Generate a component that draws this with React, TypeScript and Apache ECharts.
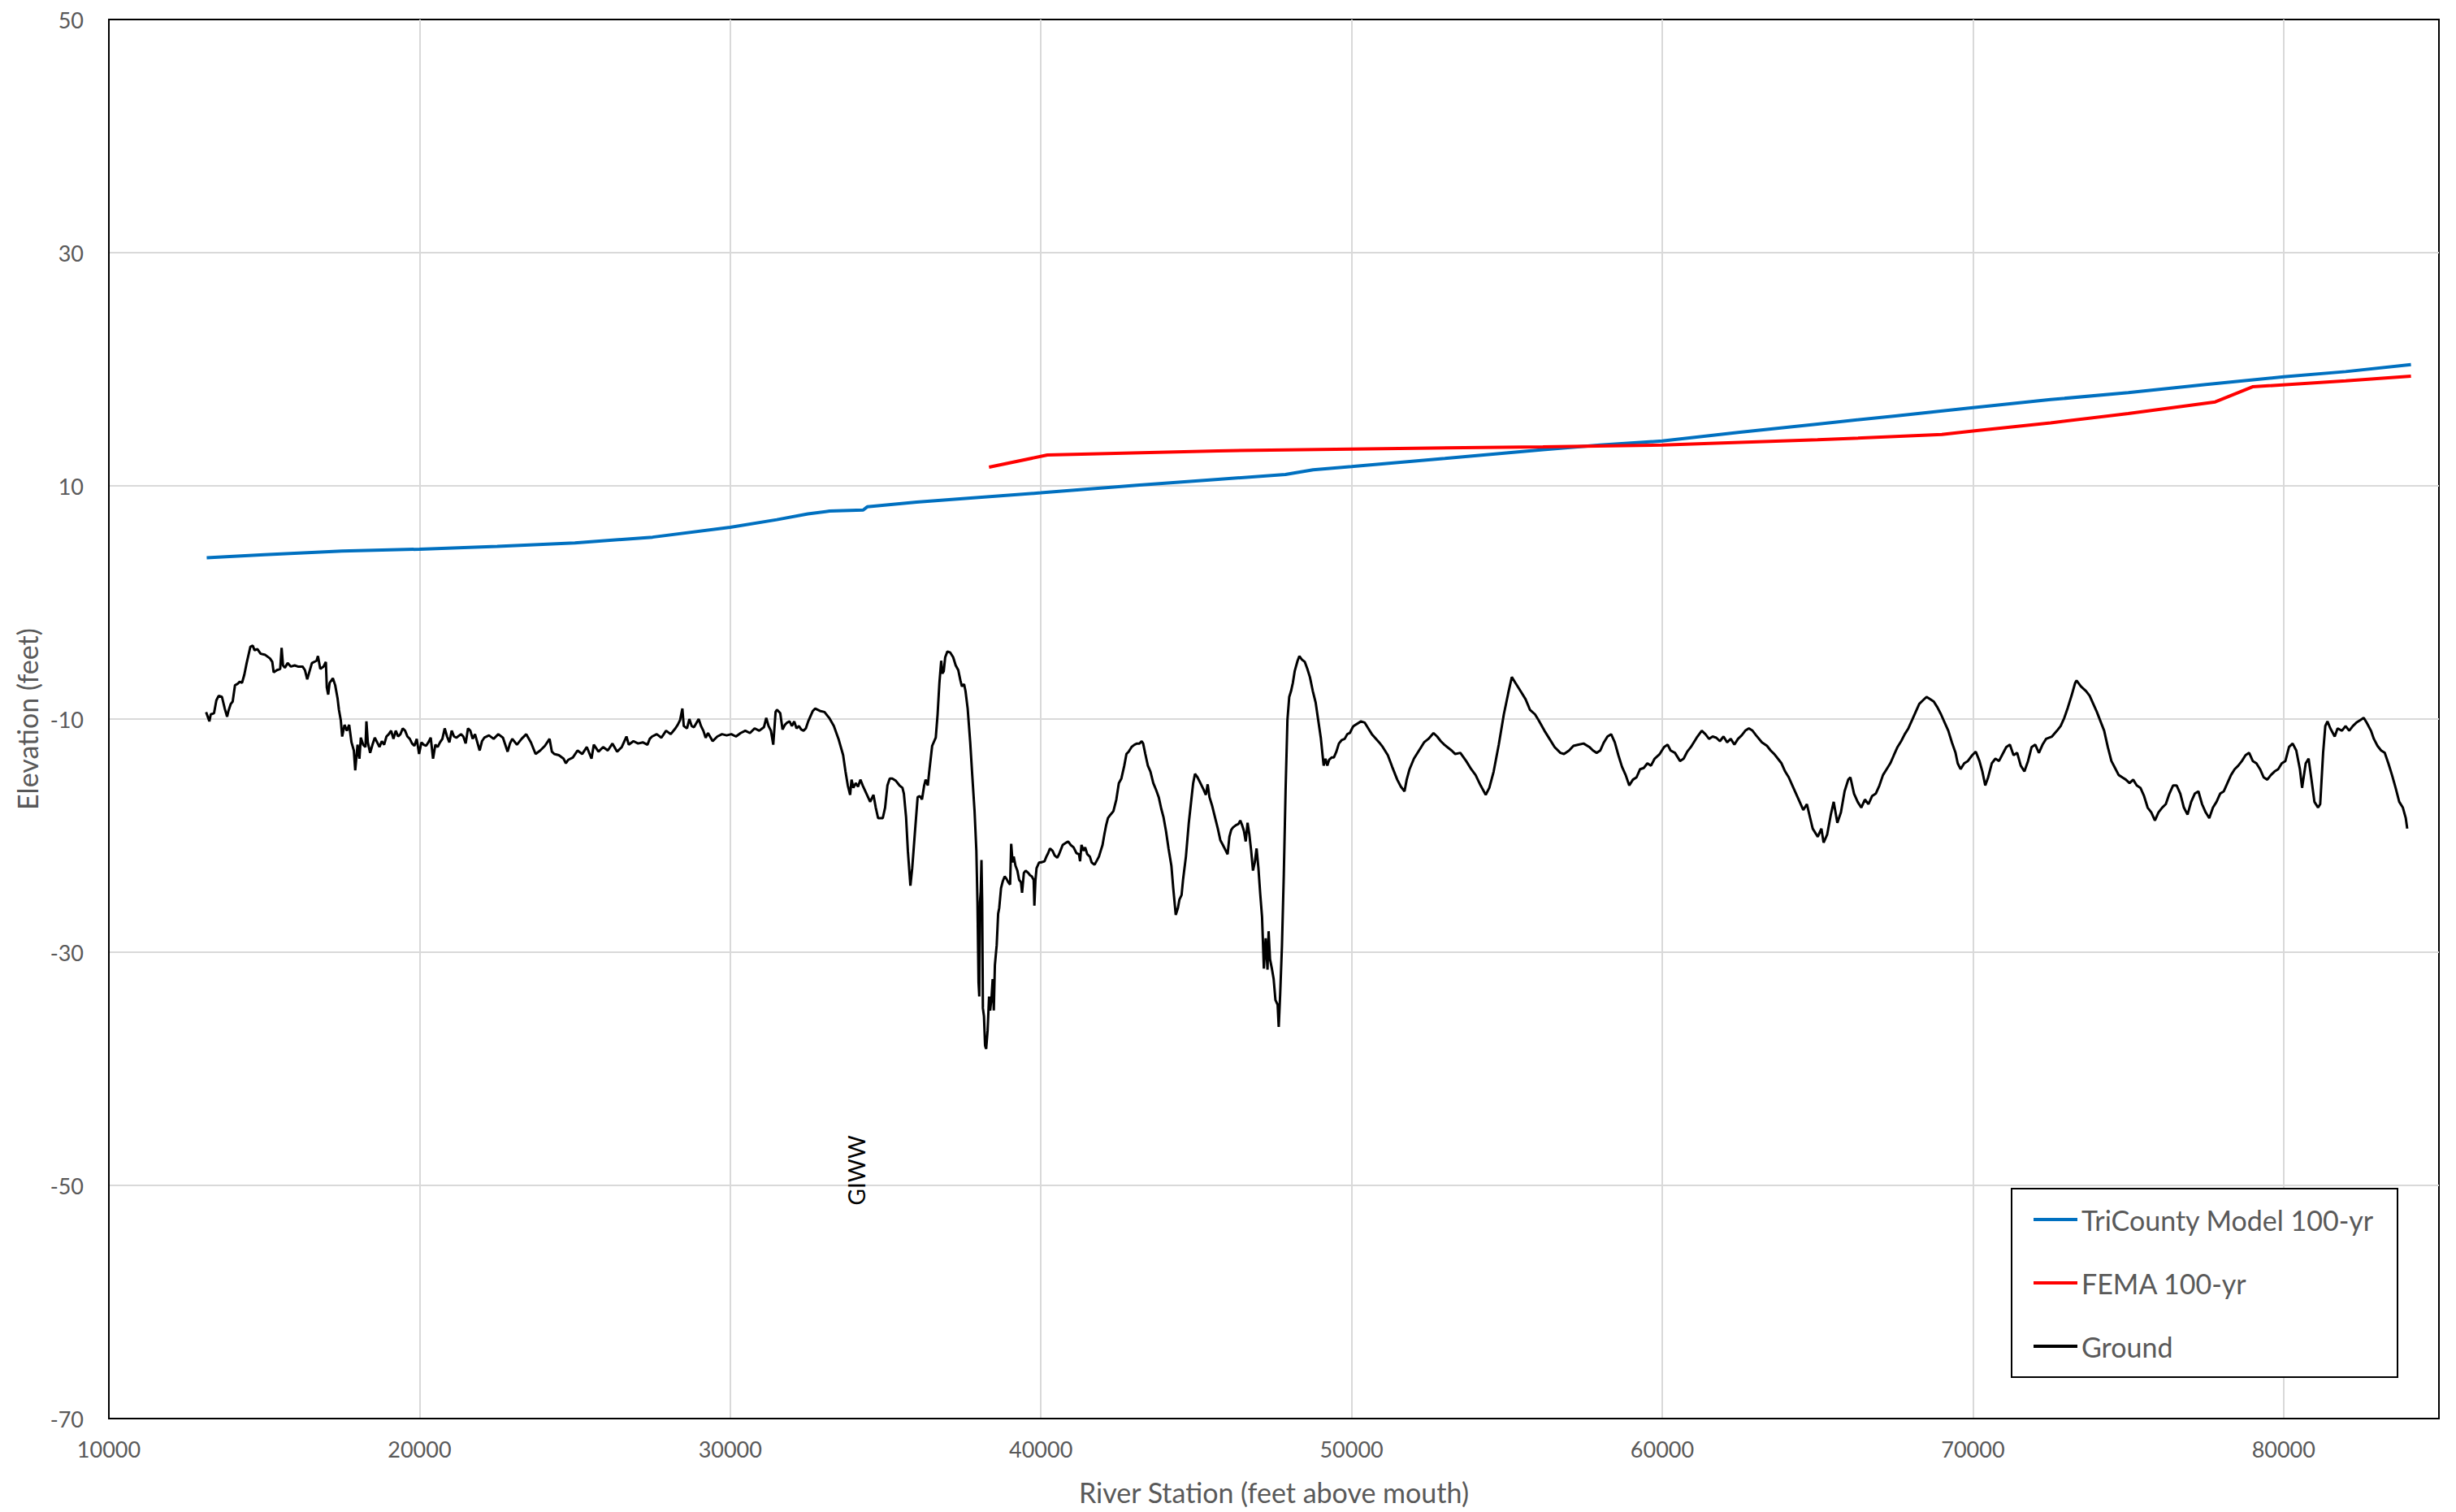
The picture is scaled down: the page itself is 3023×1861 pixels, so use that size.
import React, { useEffect, useRef } from 'react';
import * as echarts from 'echarts';

const seriesNames = ['TriCounty Model 100-yr', 'FEMA 100-yr', 'Ground'];

const tricountyStation = [13150, 15000, 17500, 20000, 22500, 25000, 27500, 30000, 31500, 32500, 33200, 34280, 34410, 36000, 38000, 40000, 43090, 45700, 47870, 48760, 50000, 53000, 56160, 58000, 60000, 62500, 65000, 67500, 70000, 72500, 75000, 77500, 80000, 82000, 84100];
const tricountyElev = [3.83, 4.1, 4.4, 4.57, 4.8, 5.1, 5.6, 6.45, 7.1, 7.6, 7.84, 7.93, 8.2, 8.6, 9.0, 9.4, 10.05, 10.56, 10.98, 11.38, 11.65, 12.35, 13.1, 13.5, 13.85, 14.6, 15.3, 16.0, 16.7, 17.4, 18.0, 18.7, 19.35, 19.8, 20.4];

const femaStation = [38330, 40210, 45700, 50000, 56160, 60000, 65000, 69000, 70000, 72500, 75000, 77800, 79000, 82000, 84100];
const femaElev = [11.6, 12.65, 13.0, 13.16, 13.35, 13.5, 13.95, 14.4, 14.7, 15.4, 16.2, 17.2, 18.5, 19.0, 19.4];

const groundStation = [
  13130, 13235, 13280, 13385, 13460, 13535, 13640, 13730, 13805, 13850, 13925, 13985, 14060, 14135, 14210, 14285, 14360, 14435, 14555, 14630,
  14690, 14780, 14885, 15035, 15185, 15260, 15305, 15410, 15515, 15560, 15605, 15665, 15755, 15860, 15980, 16085, 16235, 16310, 16385, 16460,
  16535, 16685, 16730, 16805, 16910, 16985, 17015, 17060, 17105, 17210, 17285, 17360, 17405, 17465, 17510, 17585, 17660, 17735, 17810, 17885,
  17930, 18005, 18065, 18110, 18185, 18260, 18290, 18335, 18410, 18485, 18560, 18635, 18710, 18785, 18860, 18935, 19010, 19085, 19160, 19235,
  19310, 19385, 19460, 19535, 19610, 19685, 19760, 19835, 19910, 19985, 20060, 20135, 20210, 20285, 20360, 20435, 20510, 20585, 20660, 20735,
  20810, 20885, 20960, 21035, 21110, 21185, 21335, 21410, 21485, 21560, 21635, 21710, 21785, 21935, 22010, 22085, 22235, 22385, 22535, 22685,
  22835, 22910, 22985, 23135, 23285, 23435, 23585, 23735, 23885, 24035, 24185, 24260, 24335, 24485, 24635, 24710, 24785, 24935, 25085, 25235,
  25385, 25535, 25610, 25760, 25910, 26060, 26210, 26360, 26510, 26660, 26735, 26885, 27035, 27185, 27335, 27410, 27485, 27635, 27785, 27935,
  28085, 28235, 28310, 28385, 28460, 28505, 28610, 28685, 28760, 28835, 28985, 29060, 29135, 29210, 29285, 29435, 29585, 29735, 29885, 30035,
  30185, 30335, 30485, 30635, 30785, 30935, 31085, 31160, 31235, 31310, 31385, 31460, 31505, 31610, 31685, 31760, 31835, 31910, 31985, 32060,
  32135, 32210, 32285, 32360, 32435, 32510, 32660, 32735, 32885, 33035, 33185, 33335, 33485, 33635, 33710, 33785, 33860, 33905, 33965, 34040,
  34115, 34190, 34265, 34385, 34505, 34610, 34685, 34760, 34910, 34985, 35060, 35135,
  35216, 35333, 35450, 35543, 35590, 35660, 35718, 35800, 35858, 35940, 36033, 36103, 36173, 36243, 36290, 36360, 36406, 36500, 36616, 36675,
  36733, 36791, 36827, 36873, 36920, 36990, 37083, 37177, 37258, 37340, 37410, 37457, 37527, 37573, 37643, 37725, 37783, 37865, 37923, 37958,
  37993, 38017, 38040, 38063, 38087, 38110, 38133, 38168, 38203, 38238, 38285, 38332, 38367, 38413, 38448, 38484, 38519, 38577, 38624, 38659,
  38717, 38775, 38834, 38892, 38950, 39009, 39044, 39090, 39125, 39184, 39242, 39300, 39359, 39394, 39452, 39510, 39592, 39650, 39709, 39767,
  39790, 39825, 39860, 39942, 40000, 40117, 40176, 40234, 40292, 40374, 40444, 40526, 40584, 40701, 40817, 40876, 40957, 41051, 41144, 41226,
  41261, 41307, 41377, 41424, 41494, 41576, 41634, 41727, 41809, 41868, 41926, 41984, 42043, 42101, 42159, 42241, 42334, 42428, 42509, 42591,
  42684, 42754, 42824, 42918, 43011, 43093, 43174, 43244, 43291, 43361, 43443, 43525, 43618, 43711, 43793, 43875, 43945, 44026, 44108, 44201,
  44260, 44341, 44411, 44458, 44528, 44575, 44668, 44761, 44843, 44901, 44960, 45041, 45135, 45228, 45310, 45368, 45427, 45508, 45602, 45695,
  45777, 45858, 45952, 46010, 46068, 46127, 46185, 46278, 46360, 46418, 46477, 46535, 46593, 46652, 46710, 46768, 46827, 46885, 46943, 47002,
  47060, 47119, 47177, 47235, 47294, 47329, 47375, 47434, 47492, 47550, 47620, 47655, 47702, 47760, 47819, 47877, 47935, 47994, 48052, 48110,
  48169, 48262, 48320, 48402, 48495, 48577, 48659, 48752, 48845, 48927, 49009, 49102, 49161, 49219, 49277, 49359, 49429, 49511, 49592, 49686,
  49779, 49861, 49943, 50036,
  50070, 50304, 50420, 50537, 50654, 50887, 51004, 51167, 51307, 51470, 51587, 51704, 51774, 51867, 52007, 52171, 52334, 52474, 52637, 52754,
  52871, 52987, 53221, 53337, 53501, 53688, 53851, 53991, 54154, 54318, 54434, 54574, 54738, 54901, 55041, 55158, 55274, 55438, 55601, 55741,
  55905, 56021, 56208, 56371, 56535, 56721, 56838, 57001, 57141, 57305, 57468, 57655, 57771, 57888, 58005, 58122, 58238, 58355, 58472, 58588,
  58705, 58822, 58938, 59055, 59172, 59288, 59405, 59522, 59638, 59755, 59919, 60059, 60175, 60269, 60409, 60572, 60689, 60805, 60922, 61109,
  61272, 61389, 61505, 61622, 61739, 61855, 61972, 62089, 62205, 62322, 62439, 62556, 62672, 62789, 62906, 63022, 63209, 63372, 63489, 63606,
  63722, 63839, 63956, 64072, 64189, 64306, 64423, 64539, 64656, 64726, 64843, 65006, 65123, 65193, 65309, 65426, 65519, 65636, 65752, 65869,
  65986, 66056, 66173, 66289, 66406, 66523, 66639, 66756, 66873, 66990, 67106, 67223, 67340, 67456, 67573, 67690, 67806, 67923, 68040, 68156,
  68273, 68390, 68507, 68623, 68740, 68857, 68973, 69090, 69207, 69323, 69440, 69510, 69603, 69720, 69837, 69977, 70093, 70210, 70304, 70397,
  70490, 70607, 70724, 70840, 70957, 71074, 71190, 71307, 71424, 71540, 71657, 71774, 71890, 72007, 72124, 72240, 72357, 72544, 72707, 72824,
  72941, 73057, 73174, 73291, 73337, 73477, 73641, 73757, 73874, 73991, 74107, 74224, 74341, 74457, 74574, 74691, 74807, 74924, 75041, 75158,
  75274, 75391, 75508, 75624, 75741, 75858, 75974, 76091, 76208, 76324, 76441, 76558, 76675, 76791, 76908, 77025, 77141, 77258, 77375, 77491,
  77608, 77725, 77841, 77958, 78075, 78191, 78308, 78425, 78541, 78658, 78775, 78891, 79008, 79125, 79242, 79358, 79475, 79592, 79708, 79825,
  79942, 80058, 80175, 80292, 80408, 80525, 80595, 80712, 80805, 80898, 80992, 81108, 81178, 81272, 81342, 81412, 81505, 81645, 81738, 81878,
  81995, 82112, 82229, 82345, 82462, 82579, 82672, 82812, 82905, 83022, 83139, 83255, 83372, 83489, 83605, 83722, 83839, 83932, 83979
];

const groundElev = [
  -9.4, -10.2, -9.6, -9.5, -8.4, -8.0, -8.1, -9.1, -9.8, -9.3, -8.7, -8.5, -7.1, -7.0, -6.8, -6.9, -6.2, -5.2, -3.8, -3.7,
  -4.1, -4.0, -4.4, -4.5, -4.8, -5.1, -6.0, -5.8, -5.7, -3.9, -5.4, -5.6, -5.2, -5.5, -5.4, -5.5, -5.5, -5.8, -6.6, -5.9,
  -5.2, -5.0, -4.6, -5.7, -5.5, -5.1, -7.3, -7.9, -6.9, -6.5, -7.1, -8.2, -9.2, -10.1, -11.5, -10.5, -11.0, -10.5, -12.0, -12.7,
  -14.4, -12.2, -13.4, -11.6, -12.2, -12.4, -10.2, -12.0, -12.9, -12.2, -11.6, -12.0, -12.4, -11.9, -12.2, -11.5, -11.3, -11.0, -11.7, -11.0,
  -11.5, -11.3, -10.8, -11.0, -11.5, -11.7, -12.1, -12.3, -11.7, -13.0, -12.0, -12.2, -12.3, -12.0, -11.6, -13.4, -12.2, -12.4, -12.0, -11.7,
  -10.8, -11.5, -12.0, -11.0, -11.5, -11.6, -11.3, -11.5, -12.1, -10.8, -11.0, -11.7, -11.3, -12.7, -11.9, -11.6, -11.4, -11.7, -11.3, -11.6,
  -12.8, -12.1, -11.7, -12.2, -11.7, -11.3, -12.0, -13.0, -12.7, -12.3, -11.7, -12.8, -13.0, -13.1, -13.4, -13.8, -13.5, -13.3, -12.7, -13.0,
  -12.4, -13.4, -12.2, -12.8, -12.4, -12.7, -12.1, -12.8, -12.4, -11.5, -12.2, -11.9, -12.1, -12.0, -12.2, -11.7, -11.5, -11.3, -11.6, -11.0,
  -11.3, -10.8, -10.5, -10.1, -9.1, -10.6, -10.8, -10.0, -10.6, -10.7, -10.0, -10.6, -11.0, -11.6, -11.2, -11.9, -11.5, -11.3, -11.4, -11.3,
  -11.5, -11.2, -11.0, -11.2, -10.8, -11.0, -10.7, -9.9, -10.6, -11.0, -12.2, -9.4, -9.2, -9.5, -10.9, -10.5, -10.3, -10.2, -10.6, -10.2,
  -10.8, -10.6, -10.9, -11.0, -10.8, -10.2, -9.3, -9.1, -9.3, -9.4, -9.9, -10.6, -11.7, -13.1, -14.5, -15.7, -16.5, -15.2, -15.9, -15.5,
  -15.8, -15.2, -15.7, -16.4, -17.1, -16.5, -17.6, -18.5, -18.5, -17.6, -15.7, -15.1,
  -15.1, -15.3, -15.7, -15.9, -16.4, -18.4, -21.3, -24.3, -22.8, -19.9, -16.7, -16.6, -16.9, -15.7, -15.2, -15.7, -14.5, -12.3, -11.6, -9.6,
  -6.9, -5.0, -6.1, -5.9, -4.7, -4.2, -4.3, -4.7, -5.4, -5.8, -6.7, -7.2, -7.0, -7.6, -9.1, -12.0, -14.5, -17.9, -21.3, -25.7,
  -32.6, -33.8, -25.7, -24.8, -22.1, -25.7, -34.8, -35.5, -38.0, -38.3, -36.7, -33.8, -35.0, -33.8, -32.3, -35.0, -31.1, -29.4, -26.7, -26.2,
  -24.5, -23.9, -23.5, -23.7, -24.0, -24.2, -20.7, -22.3, -21.8, -22.6, -23.0, -23.8, -24.0, -24.9, -23.2, -23.0, -23.2, -23.4, -23.5, -23.8,
  -26.0, -23.8, -22.8, -22.3, -22.3, -22.2, -21.8, -21.5, -21.1, -21.3, -21.7, -21.9, -21.6, -20.8, -20.6, -20.5, -20.8, -21.0, -21.5, -21.6,
  -22.2, -20.8, -21.3, -21.0, -21.6, -21.8, -22.3, -22.5, -22.1, -21.8, -21.3, -20.8, -19.9, -19.1, -18.5, -18.2, -17.9, -16.9, -15.5, -15.1,
  -14.0, -13.0, -12.8, -12.4, -12.2, -12.1, -12.1, -11.9, -12.1, -13.0, -14.0, -14.5, -15.5, -16.1, -16.7, -17.7, -18.4, -19.6, -21.1, -22.6,
  -24.5, -26.8, -26.2, -25.5, -25.1, -23.8, -21.8, -18.9, -16.9, -15.5, -14.7, -15.0, -15.5, -16.0, -16.5, -15.6, -16.7, -17.4, -18.4, -19.4,
  -20.4, -20.8, -21.3, -21.6, -20.1, -19.5, -19.3, -19.1, -19.0, -18.7, -19.1, -19.6, -20.5, -18.9, -19.9, -21.3, -23.0, -22.3, -21.1, -22.8,
  -25.0, -27.0, -31.4, -28.8, -31.5, -28.2, -30.6, -31.4, -32.3, -34.1, -34.5, -36.4, -33.6, -29.4, -23.3, -16.0, -10.1, -8.1, -7.6, -6.9,
  -5.9, -5.0, -4.6, -4.9, -5.1, -5.7, -6.4, -7.6, -8.6, -10.1, -11.6, -14.0, -13.4, -14.0, -13.5, -13.3, -13.3, -12.8, -12.1, -11.8,
  -11.7, -11.3, -11.2, -10.7,
  -10.6, -10.2, -10.3, -10.8, -11.3, -12.0, -12.4, -13.1, -14.1, -15.2, -15.8, -16.2, -15.2, -14.3, -13.4, -12.7, -12.0, -11.7, -11.2, -11.5,
  -11.9, -12.2, -12.7, -13.0, -12.9, -13.6, -14.3, -14.8, -15.7, -16.5, -15.9, -14.5, -12.2, -9.6, -7.8, -6.4, -6.9, -7.6, -8.3, -9.2,
  -9.6, -10.1, -11.0, -11.7, -12.4, -12.9, -13.0, -12.7, -12.3, -12.2, -12.1, -12.4, -12.7, -12.9, -12.7, -12.0, -11.5, -11.3, -12.0, -13.1,
  -14.1, -14.8, -15.7, -15.2, -15.0, -14.3, -14.2, -13.8, -14.0, -13.4, -13.0, -12.4, -12.2, -12.7, -12.9, -13.6, -13.4, -12.8, -12.4, -11.6,
  -11.0, -11.3, -11.7, -11.5, -11.6, -11.9, -11.5, -12.0, -11.7, -12.2, -11.7, -11.4, -11.0, -10.8, -11.0, -11.4, -12.0, -12.3, -12.7, -13.0,
  -13.4, -13.8, -14.5, -15.0, -15.7, -16.4, -17.1, -17.8, -17.3, -18.1, -19.4, -20.1, -19.4, -20.6, -19.9, -18.2, -17.1, -18.9, -18.0, -16.2,
  -15.2, -15.0, -16.4, -17.1, -17.6, -16.9, -17.3, -16.6, -16.4, -15.7, -14.8, -14.3, -13.8, -13.1, -12.4, -11.9, -11.3, -10.8, -10.1, -9.4,
  -8.7, -8.4, -8.1, -8.3, -8.5, -9.0, -9.6, -10.3, -11.0, -12.0, -12.9, -13.8, -14.3, -13.8, -13.6, -13.1, -12.8, -13.6, -14.5, -15.7,
  -15.0, -13.8, -13.4, -13.6, -13.0, -12.4, -12.2, -13.1, -12.9, -14.0, -14.5, -13.6, -12.4, -12.2, -12.9, -12.2, -11.7, -11.5, -11.0, -10.6,
  -9.9, -9.0, -8.0, -6.9, -6.7, -7.2, -7.6, -8.0, -8.7, -9.4, -10.2, -11.0, -12.4, -13.6, -14.2, -14.8, -15.0, -15.2, -15.5, -15.2,
  -15.7, -15.9, -16.6, -17.6, -18.0, -18.7, -18.0, -17.6, -17.3, -16.4, -15.7, -15.7, -16.4, -17.6, -18.2, -17.1, -16.4, -16.2, -17.3, -18.0,
  -18.5, -17.6, -17.1, -16.4, -16.2, -15.5, -14.8, -14.3, -14.0, -13.6, -13.1, -12.9, -13.6, -13.8, -14.3, -15.0, -15.2, -14.8, -14.5, -14.3,
  -13.8, -13.6, -12.4, -12.1, -12.7, -14.3, -15.9, -13.8, -13.4, -15.2, -17.1, -17.6, -17.3, -12.9, -10.6, -10.2, -10.8, -11.5, -10.8, -11.0,
  -10.6, -11.0, -10.6, -10.3, -10.1, -9.9, -10.3, -11.0, -11.7, -12.3, -12.7, -12.9, -13.8, -14.8, -15.9, -17.1, -17.6, -18.5, -19.4
];

const xTickMin = 10000;
const xTickMax = 85000;
const xTickStep = 10000;
const yTickMin = -70;
const yTickMax = 50;
const yLabelStep = 20;

const giwwLabel = 'GIWW';
const giwwStation = 34050;
const giwwElev = -48.7;

const FONT = 'Lato';
const GREY = '#595959';

function pairs(xs: number[], ys: number[]) {
  return xs.map((x, i) => [x, ys[i]]);
}

export default function App() {
  const ref = useRef<HTMLDivElement>(null);
  useEffect(() => {
    document.body.style.margin = '0';
    const chart = echarts.init(ref.current!, null, { renderer: 'svg' });
    const option: any = {
      animation: false,
      backgroundColor: '#ffffff',
      textStyle: { fontFamily: FONT },
      grid: {
        left: 134, right: 21, top: 24, bottom: 115,
        show: true, borderColor: '#000', borderWidth: 2, backgroundColor: 'transparent',
      },
      xAxis: {
        type: 'value', min: xTickMin, max: xTickMax, interval: xTickStep,
        name: 'River Station (feet above mouth)', nameLocation: 'middle', nameGap: 73,
        nameTextStyle: { fontSize: 34, color: GREY, fontFamily: FONT },
        axisLine: { show: true, onZero: false, lineStyle: { color: '#000', width: 2 } },
        axisTick: { show: false },
        axisLabel: {
          margin: 24, fontSize: 27, color: GREY, fontFamily: FONT, showMaxLabel: false,
          formatter: (v: number) => String(v),
        },
        splitLine: { show: true, showMinLine: false, showMaxLine: false, lineStyle: { color: '#d9d9d9', width: 2 } },
      },
      yAxis: {
        type: 'value', min: yTickMin, max: yTickMax, interval: yLabelStep / 2,
        name: 'Elevation (feet)', nameLocation: 'middle', nameGap: 76,
        nameTextStyle: { fontSize: 34, color: GREY, fontFamily: FONT },
        axisLine: { show: true, onZero: false, lineStyle: { color: '#000', width: 2 } },
        axisTick: { show: false },
        axisLabel: {
          margin: 31, fontSize: 27, color: GREY, fontFamily: FONT,
          formatter: (v: number) => (Math.abs(Math.round((v - yTickMin) / (yLabelStep / 2))) % 2 === 0 ? String(v) : ''),
        },
        splitLine: {
          show: true, showMinLine: false, showMaxLine: false,
          lineStyle: { color: ['rgba(0,0,0,0)', '#d9d9d9'], width: 2 },
        },
      },
      legend: {
        orient: 'vertical', left: 2503, top: 1481, padding: 0,
        itemWidth: 54, itemHeight: 4, itemGap: 38, z: 10, icon: 'rect',
        data: seriesNames,
        textStyle: { fontSize: 34, color: GREY, fontFamily: FONT, lineHeight: 40 },
      },
      series: [
        {
          name: seriesNames[0], type: 'line', symbol: 'none', showSymbol: false, z: 4,
          data: pairs(tricountyStation, tricountyElev),
          lineStyle: { color: '#0070C0', width: 4 }, itemStyle: { color: '#0070C0' },
        },
        {
          name: seriesNames[1], type: 'line', symbol: 'none', showSymbol: false, z: 4,
          data: pairs(femaStation, femaElev),
          lineStyle: { color: '#FF0000', width: 4 }, itemStyle: { color: '#FF0000' },
        },
        {
          name: seriesNames[2], type: 'line', symbol: 'none', showSymbol: false, z: 3,
          data: pairs(groundStation, groundElev),
          lineStyle: { color: '#000000', width: 3 }, itemStyle: { color: '#000000' },
        },
      ],
    };
    chart.setOption(option);
    const p = chart.convertToPixel({ gridIndex: 0 } as any, [giwwStation, giwwElev]) as number[];
    chart.setOption({
      graphic: [
        {
          type: 'rect', z: 5,
          shape: { x: 2476, y: 1463, width: 475, height: 232 },
          style: { fill: '#ffffff', stroke: '#000000', lineWidth: 2 },
        },
        {
          type: 'text', z: 6, x: p[0], y: p[1], rotation: Math.PI / 2,
          style: { text: giwwLabel, fill: '#000000', fontSize: 28, fontFamily: FONT, align: 'center', verticalAlign: 'middle' },
        },
      ],
    });
    return () => chart.dispose();
  }, []);
  return <div ref={ref} style={{ width: 3023, height: 1861, position: 'absolute', left: 0, top: 0 }} />;
}
